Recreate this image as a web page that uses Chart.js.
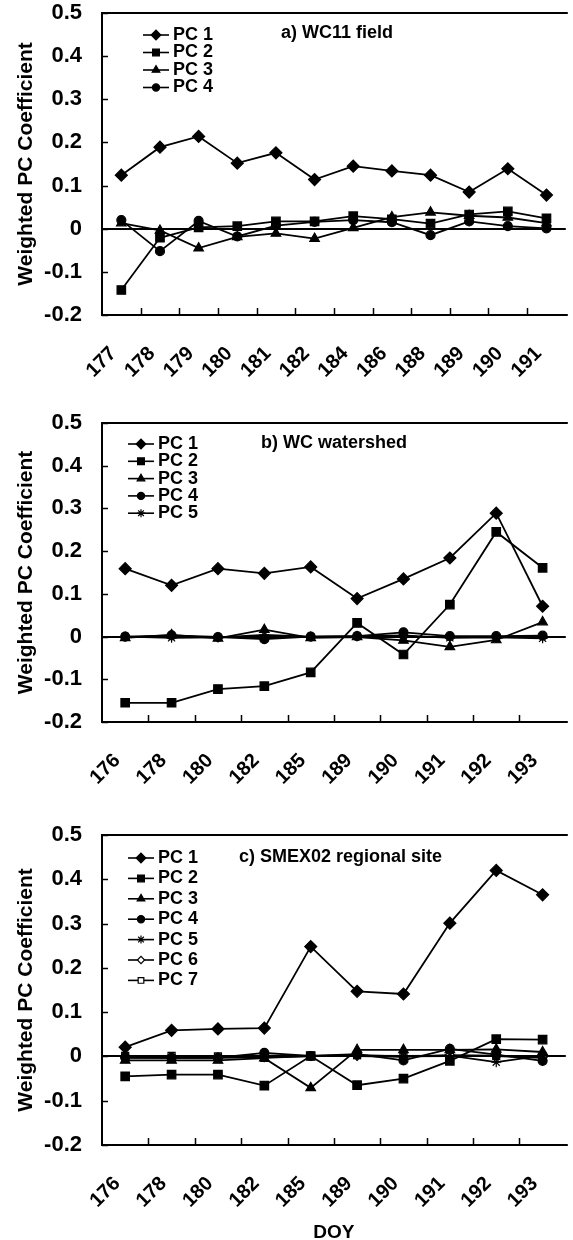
<!DOCTYPE html>
<html>
<head>
<meta charset="utf-8">
<title>Weighted PC coefficients by DOY</title>
<script src="https://cdn.jsdelivr.net/npm/chart.js"></script>
<style>
  html, body { margin: 0; padding: 0; background: #fff; overflow: hidden; }
  canvas.panel { position: absolute; left: 0; }
</style>
</head>
<body>
<canvas id="chartA" class="panel" width="573" height="400" style="top:0px"></canvas>
<canvas id="chartB" class="panel" width="573" height="410" style="top:400px"></canvas>
<canvas id="chartC" class="panel" width="573" height="430" style="top:810px"></canvas>
<script>
// ---- data ----
const Y_TICKS = [-0.2, -0.1, 0, 0.1, 0.2, 0.3, 0.4, 0.5];

// a) WC11 field
const doyA = ['177', '178', '179', '180', '181', '182', '184', '186', '188', '189', '190', '191'];
const fieldPC1 = [0.124, 0.189, 0.214, 0.152, 0.176, 0.114, 0.145, 0.134, 0.124, 0.085, 0.139, 0.078];
const fieldPC2 = [-0.142, -0.021, 0.003, 0.006, 0.017, 0.017, 0.029, 0.022, 0.012, 0.033, 0.040, 0.024];
const fieldPC3 = [0.013, -0.004, -0.045, -0.019, -0.011, -0.023, 0.002, 0.027, 0.038, 0.030, 0.026, 0.013];
const fieldPC4 = [0.020, -0.052, 0.018, -0.018, 0.007, 0.016, 0.020, 0.015, -0.015, 0.017, 0.006, 0.001];

// b) WC watershed
const doyB = ['176', '178', '180', '182', '185', '189', '190', '191', '192', '193'];
const shedPC1 = [0.159, 0.120, 0.159, 0.148, 0.163, 0.089, 0.135, 0.184, 0.289, 0.071];
const shedPC2 = [-0.155, -0.155, -0.123, -0.116, -0.084, 0.032, -0.042, 0.075, 0.245, 0.161];
const shedPC3 = [-0.003, 0.004, -0.004, 0.016, -0.003, -0.001, -0.009, -0.024, -0.008, 0.034];
const shedPC4 = [0.000, 0.003, -0.001, -0.006, 0.000, 0.001, 0.010, 0.001, 0.001, 0.002];
const shedPC5 = [0.000, -0.003, -0.002, 0.004, 0.000, 0.001, 0.003, -0.003, -0.002, -0.004];

// c) SMEX02 regional site
const doyC = ['176', '178', '180', '182', '185', '189', '190', '191', '192', '193'];
const smexPC1 = [0.021, 0.059, 0.062, 0.064, 0.248, 0.147, 0.141, 0.301, 0.420, 0.365];
const smexPC2 = [-0.045, -0.041, -0.041, -0.066, 0.001, -0.065, -0.050, -0.010, 0.039, 0.038];
const smexPC3 = [-0.009, -0.009, -0.009, -0.004, -0.071, 0.015, 0.015, 0.015, 0.016, 0.010];
const smexPC4 = [-0.002, -0.003, -0.003, 0.008, 0.001, 0.005, -0.009, 0.017, 0.004, -0.010];
const smexPC5 = [-0.003, -0.003, -0.003, -0.002, 0.001, 0.002, 0.001, 0.002, -0.013, 0.002];
const smexPC6 = [-0.002, -0.002, -0.002, 0.002, 0.001, 0.001, -0.001, 0.003, 0.002, -0.002];
const smexPC7 = [0.001, 0.001, 0.000, -0.003, 0.001, 0.003, 0.000, 0.001, 0.001, -0.003];

// ---- styling ----
const FONT = "'Liberation Sans', Arial, sans-serif";
Chart.defaults.font.family = FONT;
Chart.defaults.font.weight = 'bold';
Chart.defaults.color = '#000';

// marker per component, in legend order
const MARKERS = [
  { style: 'rectRot', radius: 6, fill: '#000' },     // PC 1
  { style: 'rect', radius: 6, fill: '#000' },        // PC 2
  { style: 'triangle', radius: 5.5, fill: '#000' },  // PC 3
  { style: 'circle', radius: 4.5, fill: '#000' },    // PC 4
  { style: 'star', radius: 5, fill: '#000' },        // PC 5
  { style: 'rectRot', radius: 4.5, fill: '#fff' },   // PC 6
  { style: 'rect', radius: 5, fill: '#fff' }         // PC 7
];

function makeDataset(values, i) {
  const m = MARKERS[i];
  return {
    label: 'PC ' + (i + 1),
    data: values,
    borderColor: '#000',
    borderWidth: 1.8,
    pointStyle: m.style,
    pointRadius: m.radius,
    pointBackgroundColor: m.fill,
    pointBorderColor: '#000',
    pointBorderWidth: 1.2,
    tension: 0,
    fill: false
  };
}

// frame (top/left/bottom), inward tick marks, panel caption and legend
const panelDecor = {
  id: 'panelDecor',
  afterDatasetsDraw(chart, args, opts) {
    const { ctx, chartArea: a, scales } = chart;
    ctx.save();
    ctx.strokeStyle = '#000';
    ctx.lineWidth = 2;
    ctx.beginPath();
    ctx.moveTo(a.right + 2, a.top);
    ctx.lineTo(a.left, a.top);
    ctx.lineTo(a.left, a.bottom);
    ctx.lineTo(a.right + 2, a.bottom);
    ctx.stroke();

    // y ticks pointing into the plot
    ctx.lineWidth = 1.5;
    ctx.beginPath();
    scales.y.ticks.forEach(t => {
      const y = Math.round(scales.y.getPixelForValue(t.value)) + 0.5;
      ctx.moveTo(a.left, y);
      ctx.lineTo(a.left + 6, y);
    });
    // x ticks at category boundaries
    const n = chart.data.labels.length;
    for (let i = 1; i < n; i++) {
      const x = Math.round((scales.x.getPixelForValue(i - 1) + scales.x.getPixelForValue(i)) / 2) + 0.5;
      ctx.moveTo(x, a.bottom);
      ctx.lineTo(x, a.bottom - 7);
    }
    ctx.stroke();

    // caption
    ctx.fillStyle = '#000';
    ctx.font = 'bold 18px ' + FONT;
    ctx.textAlign = 'left';
    ctx.textBaseline = 'middle';
    ctx.fillText(opts.caption, a.left + opts.captionX, a.top + opts.captionY);

    // legend: short line with marker, then label
    chart.data.datasets.forEach((ds, i) => {
      const y = a.top + opts.legendY + i * opts.legendGap;
      const x0 = a.left + opts.legendX;
      ctx.strokeStyle = '#000';
      ctx.lineWidth = 1.6;
      ctx.beginPath();
      ctx.moveTo(x0, y);
      ctx.lineTo(x0 + 26, y);
      ctx.stroke();
      ctx.fillStyle = ds.pointBackgroundColor;
      ctx.lineWidth = 1.2;
      Chart.helpers.drawPoint(ctx, {
        pointStyle: ds.pointStyle,
        radius: ds.pointRadius * 0.8,
        rotation: 0,
        borderWidth: 1.2
      }, x0 + 13, y);
      ctx.fillStyle = '#000';
      ctx.fillText(ds.label, x0 + 30, y);
    });
    ctx.restore();
  }
};

function buildPanel(id, labels, series, decor, axis) {
  new Chart(document.getElementById(id), {
    type: 'line',
    data: { labels: labels, datasets: series.map(makeDataset) },
    options: {
      responsive: false,
      animation: false,
      layout: { padding: { top: axis.top, right: 0, left: 0, bottom: 0 } },
      plugins: { legend: { display: false }, tooltip: { enabled: false }, panelDecor: decor },
      scales: {
        x: {
          offset: true,
          grid: { display: false, drawTicks: false },
          border: { display: false },
          ticks: {
            autoSkip: false,
            minRotation: 45,
            maxRotation: 45,
            padding: 27,
            labelOffset: -8,
            font: { size: 20, weight: 'bold' }
          },
          title: {
            display: !!axis.xTitle,
            text: axis.xTitle || '',
            font: { size: 19, weight: 'bold' },
            padding: { top: 0, bottom: -4 }
          },
          afterFit(scale) {
            scale.height = axis.xHeight;
            scale.paddingLeft = 0;
            scale.paddingRight = 0;
          }
        },
        y: {
          min: -0.2,
          max: 0.5,
          afterBuildTicks(scale) { scale.ticks = Y_TICKS.map(v => ({ value: v })); },
          grid: {
            drawTicks: false,
            color: c => (c.tick && c.tick.value === 0 ? '#000' : 'rgba(0,0,0,0)'),
            lineWidth: c => (c.tick && c.tick.value === 0 ? 2 : 0)
          },
          border: { display: false },
          ticks: {
            padding: 20,
            font: { size: 22, weight: 'bold' },
            callback: v => (Math.abs(v) < 1e-9 ? '0' : (+v).toFixed(1))
          },
          title: {
            display: true,
            text: 'Weighted PC Coefficient',
            font: { size: 21, weight: 'bold' },
            padding: { top: 14, bottom: 0 }
          },
          afterFit(scale) {
            scale.width = 102;
            scale.paddingTop = 0;
            scale.paddingBottom = 0;
          }
        }
      }
    },
    plugins: [panelDecor]
  });
}

buildPanel('chartA', doyA, [fieldPC1, fieldPC2, fieldPC3, fieldPC4],
  { caption: 'a) WC11 field', captionX: 179, captionY: 20, legendX: 41, legendY: 22, legendGap: 17.5 },
  { top: 13, xHeight: 85 });

buildPanel('chartB', doyB, [shedPC1, shedPC2, shedPC3, shedPC4, shedPC5],
  { caption: 'b) WC watershed', captionX: 159, captionY: 20, legendX: 26, legendY: 21, legendGap: 17.3 },
  { top: 23, xHeight: 88 });

buildPanel('chartC', doyC, [smexPC1, smexPC2, smexPC3, smexPC4, smexPC5, smexPC6, smexPC7],
  { caption: 'c) SMEX02 regional site', captionX: 137, captionY: 22, legendX: 26, legendY: 23, legendGap: 20.4 },
  { top: 25, xHeight: 95, xTitle: 'DOY' });
</script>
</body>
</html>
